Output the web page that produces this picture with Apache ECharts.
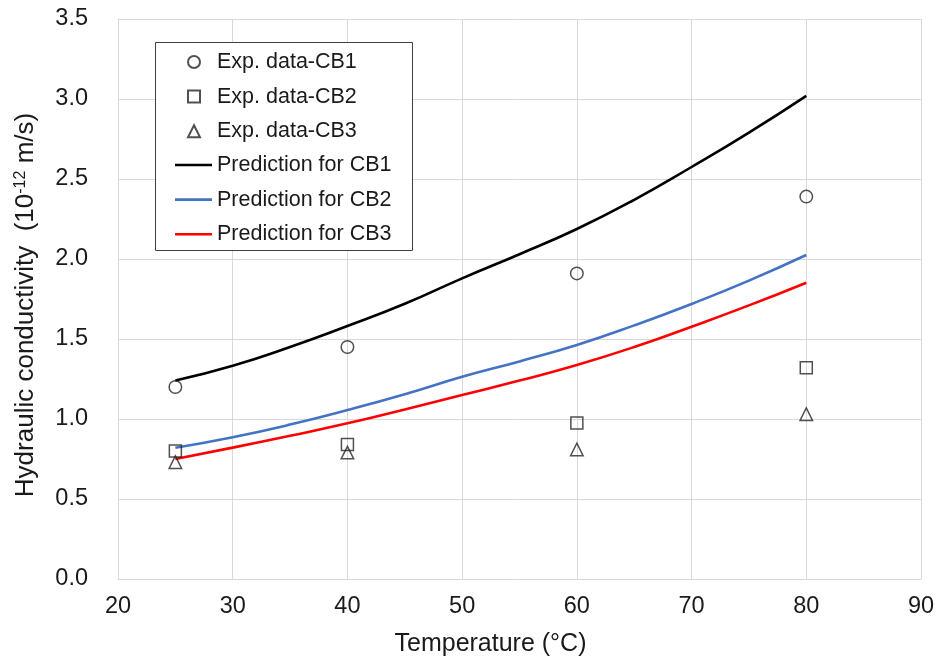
<!DOCTYPE html>
<html>
<head>
<meta charset="utf-8">
<script src="https://cdn.jsdelivr.net/npm/echarts@6/dist/echarts.min.js"></script>
<style>
html,body{margin:0;padding:0;background:#fff;}
#chart{width:939px;height:662px;}
</style>
</head>
<body>
<div id="chart"></div>
<script>
// Experimental data (temperature °C, hydraulic conductivity 1e-12 m/s)
const expTemps = [25, 40, 60, 80];
const expCB1 = [1.20, 1.45, 1.91, 2.39];
const expCB2 = [0.80, 0.84, 0.975, 1.32];
const expCB3 = [0.73, 0.79, 0.81, 1.03];

// Prediction curves
const predTemps = [25, 30, 35, 40, 45, 50, 55, 60, 65, 70, 75, 80];
const predCB1 = [1.24, 1.333, 1.45, 1.581, 1.72, 1.879, 2.03, 2.1875, 2.37, 2.575, 2.79, 3.02];
const predCB2 = [0.82, 0.886, 0.965, 1.056, 1.155, 1.264, 1.36, 1.4625, 1.585, 1.719, 1.865, 2.025];
const predCB3 = [0.75, 0.821, 0.895, 0.973, 1.06, 1.15, 1.24, 1.3375, 1.45, 1.577, 1.71, 1.852];

const xTicks = [20, 30, 40, 50, 60, 70, 80, 90];
const yTicks = [0.0, 0.5, 1.0, 1.5, 2.0, 2.5, 3.0, 3.5];

const zip = (xs, ys) => xs.map((x, i) => [x, ys[i]]);
const FONT = '"Liberation Sans", Arial, sans-serif';
const TXT = '#1a1a1a';
const MK = '#262626';

const chart = echarts.init(document.getElementById('chart'), null, {renderer: 'canvas'});

function scatter(name, data, symbol, size) {
  return {
    name, type: 'scatter', data, symbol, symbolSize: size, z: 5,
    itemStyle: {color: 'rgba(255,255,255,0)', borderColor: MK, borderWidth: 1.5}
  };
}
function line(name, data, color) {
  return {
    name, type: 'line', data, smooth: true, showSymbol: false, symbol: 'none', z: 3,
    lineStyle: {color, width: 2.6}, itemStyle: {color}
  };
}

chart.setOption({
  animation: false,
  backgroundColor: '#fff',
  grid: {left: 118, right: 18, top: 19, bottom: 83, containLabel: false},
  xAxis: {
    type: 'value', min: xTicks[0], max: xTicks[xTicks.length - 1], interval: 10,
    name: 'Temperature (°C)', nameLocation: 'middle', nameGap: 53,
    nameTextStyle: {fontFamily: FONT, fontSize: 25, color: TXT, padding: [0, 58, 0, 0]},
    axisLine: {show: true, lineStyle: {color: '#d9d9d9', width: 1}},
    axisTick: {show: false},
    axisLabel: {fontFamily: FONT, fontSize: 23.5, color: TXT, margin: 16},
    splitLine: {show: true, lineStyle: {color: '#d9d9d9', width: 1}}
  },
  yAxis: {
    type: 'value', min: yTicks[0], max: yTicks[yTicks.length - 1], interval: 0.5,
    name: '{a|Hydraulic conductivity  (10}{s|-12}{a| m/s)}', nameLocation: 'middle', nameGap: 79,
    nameTextStyle: {
      fontFamily: FONT, color: TXT, padding: [0, 12, 0, 0],
      rich: {
        a: {fontFamily: FONT, fontSize: 26, color: TXT},
        s: {fontFamily: FONT, fontSize: 16, color: TXT, verticalAlign: 'top', padding: [0, 0, 9, 0]}
      }
    },
    axisLine: {show: true, lineStyle: {color: '#d9d9d9', width: 1}},
    axisTick: {show: false},
    axisLabel: {fontFamily: FONT, fontSize: 23.5, color: TXT, margin: 30, formatter: v => v.toFixed(1)},
    splitLine: {show: true, lineStyle: {color: '#d9d9d9', width: 1}}
  },
  graphic: [{
    type: 'rect', z: 10, shape: {x: 155.5, y: 42.5, width: 257, height: 208},
    style: {fill: '#fff', stroke: '#404040', lineWidth: 1}
  }],
  legend: [
    {
      orient: 'vertical', left: 187, top: 51, z: 20, padding: 0,
      itemWidth: 12, itemHeight: 12, itemGap: 12.6,
      data: ['Exp. data-CB1', 'Exp. data-CB2', 'Exp. data-CB3'],
      textStyle: {fontFamily: FONT, fontSize: 21.5, color: TXT, lineHeight: 22, padding: [0, 0, 0, 12]}
    },
    {
      orient: 'vertical', left: 175, top: 154, z: 20, padding: 0,
      itemWidth: 37, itemHeight: 2.6, itemGap: 12.6, icon: 'rect',
      data: ['Prediction for CB1', 'Prediction for CB2', 'Prediction for CB3'],
      textStyle: {fontFamily: FONT, fontSize: 21.5, color: TXT, lineHeight: 22}
    }
  ],
  series: [
    scatter('Exp. data-CB1', zip(expTemps, expCB1), 'circle', 12.5),
    scatter('Exp. data-CB2', zip(expTemps, expCB2), 'rect', 12),
    scatter('Exp. data-CB3', zip(expTemps, expCB3), 'triangle', 12.5),
    line('Prediction for CB1', zip(predTemps, predCB1), '#000000'),
    line('Prediction for CB2', zip(predTemps, predCB2), '#4472C4'),
    line('Prediction for CB3', zip(predTemps, predCB3), '#FF0000')
  ]
});
</script>
</body>
</html>
